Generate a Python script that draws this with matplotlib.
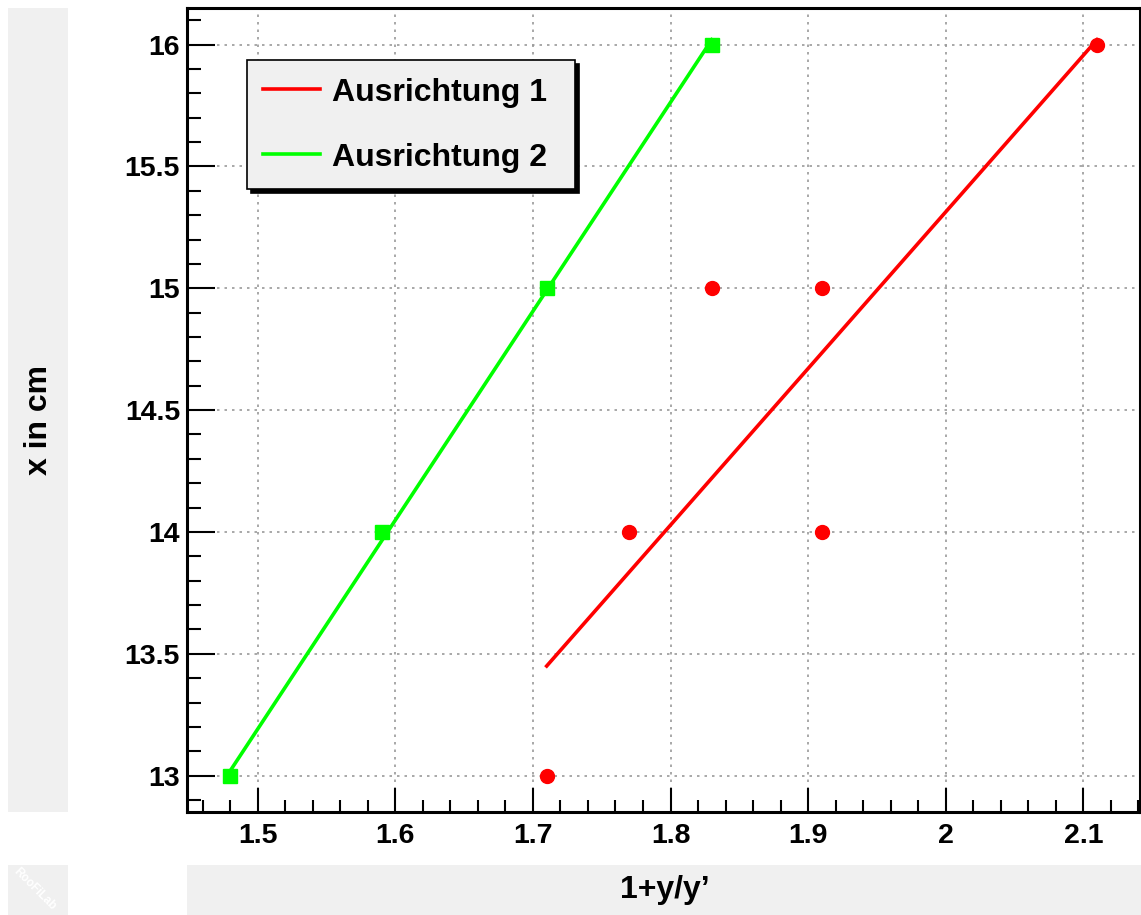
import matplotlib
matplotlib.use('Agg')
import matplotlib.pyplot as plt
from matplotlib.patches import Rectangle
from matplotlib.lines import Line2D
from matplotlib.ticker import MultipleLocator

plt.rcParams['font.family'] = ['Liberation Sans', 'DejaVu Sans']
plt.rcParams['font.weight'] = 'bold'

# measured points, Ausrichtung 1 (red circles)
x1 = [1.71, 1.77, 1.83, 1.91, 1.91, 2.11]
y1 = [13.0, 14.0, 15.0, 15.0, 14.0, 16.0]
# fitted line endpoints
fit1_x = [1.71, 2.11]
fit1_y = [13.45, 16.02]

# Ausrichtung 2 (green squares)
x2 = [1.48, 1.59, 1.71, 1.83]
y2 = [13.0, 14.0, 15.0, 16.0]
fit2_x = [1.48, 1.83]
fit2_y = [13.02, 16.02]

labels = ['Ausrichtung 1', 'Ausrichtung 2']
RED = '#ff0000'
GREEN = '#00ff00'
PADGRAY = '#f0f0f0'

W, H = 1141, 915
fig = plt.figure(figsize=(W / 100, H / 100), dpi=100)

def px_rect(x0, y0, x1_, y1_, **kw):
    # rectangle given in pixel coords measured from the top-left
    fig.patches.append(Rectangle((x0 / W, 1 - y1_ / H), (x1_ - x0) / W, (y1_ - y0) / H,
                                 transform=fig.transFigure, figure=fig, **kw))

# grey title pads (ROOT style)
px_rect(8, 8, 68, 812, facecolor=PADGRAY, edgecolor='none', zorder=0)
px_rect(187, 865, 1141, 915, facecolor=PADGRAY, edgecolor='none', zorder=0)
px_rect(8, 865, 68, 915, facecolor=PADGRAY, edgecolor='none', zorder=0)

ax = fig.add_axes([187 / W, 1 - 812 / H, (1140 - 187) / W, (812 - 8) / H])

ax.plot(fit1_x, fit1_y, color=RED, lw=2.6, zorder=3)
ax.plot(fit2_x, fit2_y, color=GREEN, lw=2.6, zorder=3)
ax.plot(x1, y1, 'o', color=RED, ms=10, mec=RED, zorder=4)
ax.plot(x2, y2, 's', color=GREEN, ms=9.5, mec=GREEN, zorder=4)

ax.set_xlim(1.4486, 2.1412)
ax.set_ylim(12.851, 16.15)

ax.xaxis.set_major_locator(MultipleLocator(0.1))
ax.xaxis.set_minor_locator(MultipleLocator(0.02))
ax.yaxis.set_major_locator(MultipleLocator(0.5))
ax.yaxis.set_minor_locator(MultipleLocator(0.1))
ax.xaxis.set_major_formatter(plt.FuncFormatter(lambda v, p: f'{v:g}'))
ax.yaxis.set_major_formatter(plt.FuncFormatter(lambda v, p: f'{v:g}'))

ax.tick_params(axis='both', which='both', direction='in', top=False, right=False,
               width=1.5, labelsize=20.5)
ax.tick_params(axis='x', which='major', length=17, pad=8)
ax.tick_params(axis='x', which='minor', length=8.6)
ax.tick_params(axis='y', which='major', length=20, pad=5)
ax.tick_params(axis='y', which='minor', length=10)
for lab in ax.get_xticklabels() + ax.get_yticklabels():
    lab.set_fontweight('bold')

for s in ax.spines.values():
    s.set_linewidth(2.2)

ax.grid(True, which='major', linestyle=(0, (1.5, 3)), color='#999999', lw=1.2)
ax.set_axisbelow(True)

# legend
handles = [Line2D([], [], color=RED, lw=2.6), Line2D([], [], color=GREEN, lw=2.6)]
leg = ax.legend(handles, labels, loc='upper left',
                bbox_to_anchor=(247 / W, 1 - 190 / H, (575 - 247) / W, (190 - 60) / H),
                bbox_transform=fig.transFigure, mode='expand',
                prop={'size': 23, 'weight': 'bold'}, handlelength=1.8, handleheight=1.0,
                handletextpad=0.35, labelspacing=1.03, borderpad=0.5, borderaxespad=0,
                fancybox=False, framealpha=1, facecolor=PADGRAY, edgecolor='black',
                shadow={'ox': 3, 'oy': -3, 'color': 'black', 'alpha': 1})
leg.get_frame().set_linewidth(1.2)

# axis titles in the grey pads
fig.text(665 / W, 1 - 890 / H, '1+y/y\u2019', ha='center', va='center',
         fontsize=23, fontweight='bold')
fig.text(39 / W, 1 - 420 / H, 'x in cm', ha='center', va='center', rotation=90,
         fontsize=23, fontweight='bold')
fig.text(35 / W, 1 - 889 / H, 'RooFiLab', ha='center', va='center', rotation=-45,
         fontsize=8.5, color='white', fontweight='bold')

fig.savefig('out.png', dpi=100)
